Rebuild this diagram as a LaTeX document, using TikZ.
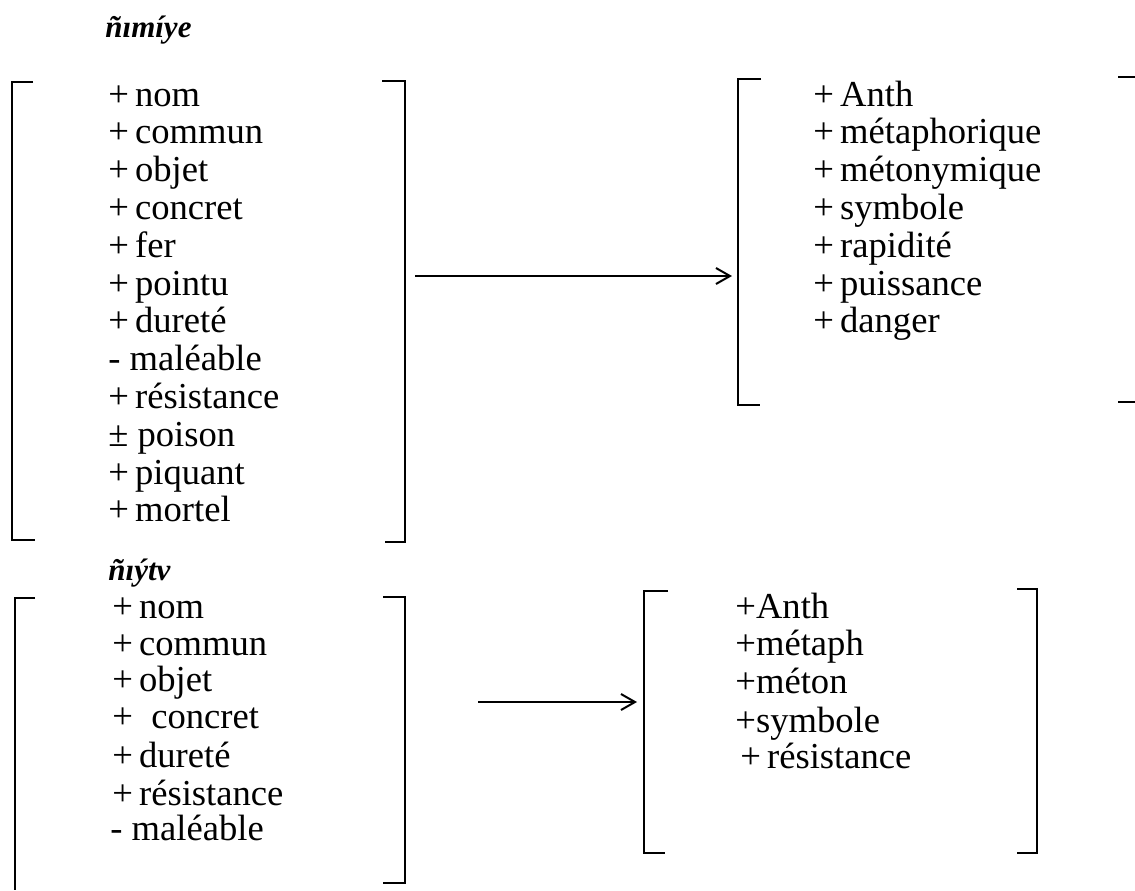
\documentclass[tikz,border=0pt]{standalone}
\usepackage{fontspec}
\setmainfont{Liberation Serif}
\usetikzlibrary{arrows.meta}
\begin{document}
\begin{tikzpicture}[x=0.5pt,y=-0.5pt,
  item/.style={anchor=west, inner sep=0pt, text height=0.7em, text depth=0.2em, font=\fontsize{18.3}{22}\selectfont},
  ttl/.style={anchor=west, inner sep=0pt, font=\fontsize{15.5}{18}\selectfont\bfseries\itshape},
  brk/.style={line width=1.1pt},
  arr/.style={line width=0.9pt, -{Straight Barb[length=7pt,width=8pt,line width=1pt]}}]
\useasboundingbox (0,0) rectangle (1135,890);
% titles
\node[ttl] (t1) at (105,30) {ñımíye};
\node[ttl] (t2) at (108,573) {ñıýtv};
% top-left list
\foreach \txt [count=\i from 0] in {+\,nom,+\,commun,+\,objet,+\,concret,+\,fer,+\,pointu,+\,dureté,- maléable,+\,résistance,± poison,+\,piquant,+\,mortel}{
  \node[item] (tl\i) at (108,101+37.8*\i) {\txt};
}
% top-right list
\foreach \txt [count=\i from 0] in {+\,Anth,+\,métaphorique,+\,métonymique,+\,symbole,+\,rapidité,+\,puissance,+\,danger}{
  \node[item] (tr\i) at (813,101+37.8*\i) {\txt};
}
% bottom-left list
\node[item] (bl0) at (112,613) {+\,nom};
\node[item] (bl1) at (112,650) {+\,commun};
\node[item] (bl2) at (112,686) {+\,objet};
\node[item] (bl3) at (112,723) {+\ \ concret};
\node[item] (bl4) at (112,762) {+\,dureté};
\node[item] (bl5) at (112,800) {+\,résistance};
\node[item] (bl6) at (110,835) {- maléable};
% bottom-right list
\node[item] (br0) at (735,613) {+Anth};
\node[item] (br1) at (735,650) {+métaph};
\node[item] (br2) at (735,688) {+méton};
\node[item] (br3) at (735,727) {+symbole};
\node[item] (br4) at (740,763) {+\,résistance};
% brackets
\draw[brk] (33,82) -- (12,82) -- (12,540) -- (35,540);
\draw[brk] (382,81) -- (405,81) -- (405,542) -- (385,542);
\draw[brk] (761,79) -- (738,79) -- (738,405) -- (760,405);
\draw[brk] (1118,77) -- (1135,77);
\draw[brk] (1118,402) -- (1135,402);
\draw[brk] (35,598) -- (15,598) -- (15,890);
\draw[brk] (383,597) -- (405,597) -- (405,883) -- (383,883);
\draw[brk] (668,591) -- (644,591) -- (644,853) -- (665,853);
\draw[brk] (1017,589) -- (1037,589) -- (1037,853) -- (1017,853);
% arrows
\coordinate (a1s) at (415,276);
\coordinate (a1e) at (732,276);
\coordinate (a2s) at (478,702);
\coordinate (a2e) at (637,702);
\draw[arr] (a1s) -- (a1e);
\draw[arr] (a2s) -- (a2e);
\end{tikzpicture}
\end{document}
